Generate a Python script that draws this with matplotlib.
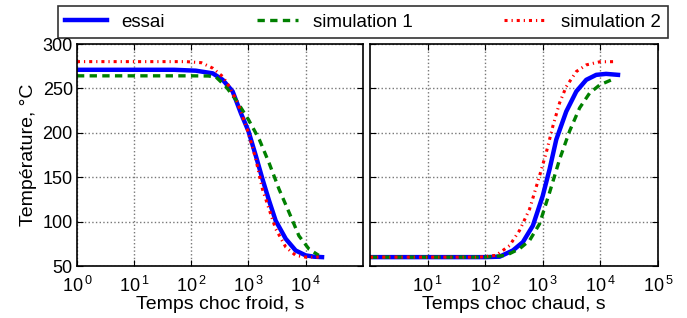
import numpy as np
import matplotlib.pyplot as plt

plt.rcParams['font.family'] = ['Liberation Sans', 'DejaVu Sans']
plt.rcParams['mathtext.fontset'] = 'custom'
plt.rcParams['mathtext.rm'] = 'Liberation Sans'

# choc froid (cold shock)
t_froid_essai = [1, 50, 120, 238, 355, 530, 740, 1000, 1350, 1760, 2300, 3000, 4500, 6700, 10000, 14000, 19400]
T_froid_essai = [271, 271, 270, 267, 259.7, 246.6, 222, 202, 174, 148, 123.5, 101, 80.6, 67.5, 62, 60.5, 60]
t_froid_sim1 = [1, 100, 200, 272, 405, 607, 1000, 1550, 2300, 3430, 5140, 7650, 11500, 17000]
T_froid_sim1 = [264.2, 264.2, 264, 262.7, 252, 237, 215, 192.5, 166, 136.6, 110.4, 84, 69, 62]
t_froid_sim2 = [1, 80, 150, 238, 355, 464, 648, 1000, 1350, 1760, 2300, 3000, 4500, 6700, 10000, 17000]
T_froid_sim2 = [280.2, 280.2, 279, 272.8, 263.4, 252, 233.6, 200, 170, 136.6, 114, 91.8, 71.3, 62, 60, 60]

# choc chaud (hot shock)
t_chaud_essai = [1, 100, 178, 303, 452, 675, 1000, 1315, 1720, 2560, 3830, 5700, 8500, 12600, 20300]
T_chaud_essai = [60, 60, 60.5, 67.5, 76.9, 95.5, 129, 159, 192.5, 224, 246.6, 259.7, 265.3, 266.4, 265.3]
t_chaud_sim1 = [1, 100, 232, 395, 590, 880, 1315, 1960, 2930, 4370, 6530, 9800, 16600]
T_chaud_sim1 = [60, 60, 62, 69.4, 78.7, 97.4, 132.8, 170, 202, 228, 244.8, 254, 260.4]
t_chaud_sim2 = [1, 80, 155, 265, 395, 590, 880, 1150, 1500, 1960, 2560, 3830, 5700, 9800, 19000]
T_chaud_sim2 = [60, 60, 62, 73, 90, 114, 151.5, 177.6, 207.5, 233.6, 252, 269, 276.5, 280, 280.2]

fig = plt.figure(figsize=(6.87, 3.18), dpi=100)
ax1 = fig.add_axes([0.112, 0.1635, 0.416, 0.698])
ax2 = fig.add_axes([0.5386, 0.1635, 0.419, 0.698])

style_essai = dict(color='#0000ff', lw=3.2, ls='-')
style_sim1 = dict(color='#008000', lw=2.4, ls=(0, (2.2, 1.6)))
style_sim2 = dict(color='#ff0000', lw=2.2, ls=(0, (1.0, 1.3, 0.4, 1.3)))

ax1.plot(t_froid_essai, T_froid_essai, label='essai', **style_essai)
ax1.plot(t_froid_sim1, T_froid_sim1, label='simulation 1', **style_sim1)
ax1.plot(t_froid_sim2, T_froid_sim2, label='simulation 2', **style_sim2)

ax2.plot(t_chaud_essai, T_chaud_essai, **style_essai)
ax2.plot(t_chaud_sim1, T_chaud_sim1, **style_sim1)
ax2.plot(t_chaud_sim2, T_chaud_sim2, **style_sim2)

for ax in (ax1, ax2):
    ax.set_xscale('log')
    ax.set_xlim(1, 1e5)
    ax.set_ylim(50, 300)
    ax.set_yticks([50, 100, 150, 200, 250, 300])
    ax.grid(True, which='major', color='#777777', ls=':', lw=1.0)
    ax.tick_params(which='both', direction='in', top=True, right=True, labelsize=13)
    ax.tick_params(which='major', length=4)
    ax.tick_params(which='minor', length=2)
    for s in ax.spines.values():
        s.set_linewidth(1.2)

ax1.set_xticks([1, 10, 100, 1000, 10000])
ax1.set_xticklabels([r'$10^{\,0}$', r'$10^{\,1}$', r'$10^{\,2}$', r'$10^{\,3}$', r'$10^{\,4}$'])
ax2.set_xticks([10, 100, 1000, 10000, 100000])
ax2.set_xticklabels([r'$10^{\,1}$', r'$10^{\,2}$', r'$10^{\,3}$', r'$10^{\,4}$', r'$10^{\,5}$'])
ax2.set_yticklabels([])
ax1.tick_params(axis='x', pad=7)
ax2.tick_params(axis='x', pad=7)
ax1.tick_params(axis='y', pad=3)

ax1.set_ylabel('Température, °C', fontsize=14, labelpad=4)
ax1.set_xlabel('Temps choc froid, s', fontsize=14, labelpad=0)
ax2.set_xlabel('Temps choc chaud, s', fontsize=14, labelpad=0)

leg = fig.legend(loc='lower left', bbox_to_anchor=(0.0844, 0.8805, 0.888, 0.1006),
                 mode='expand', ncol=3, fontsize=13.5, frameon=True, fancybox=False,
                 edgecolor='black', handlelength=2.2, borderaxespad=0)
leg.get_frame().set_linewidth(1.2)

fig.savefig('out.png', dpi=100)
